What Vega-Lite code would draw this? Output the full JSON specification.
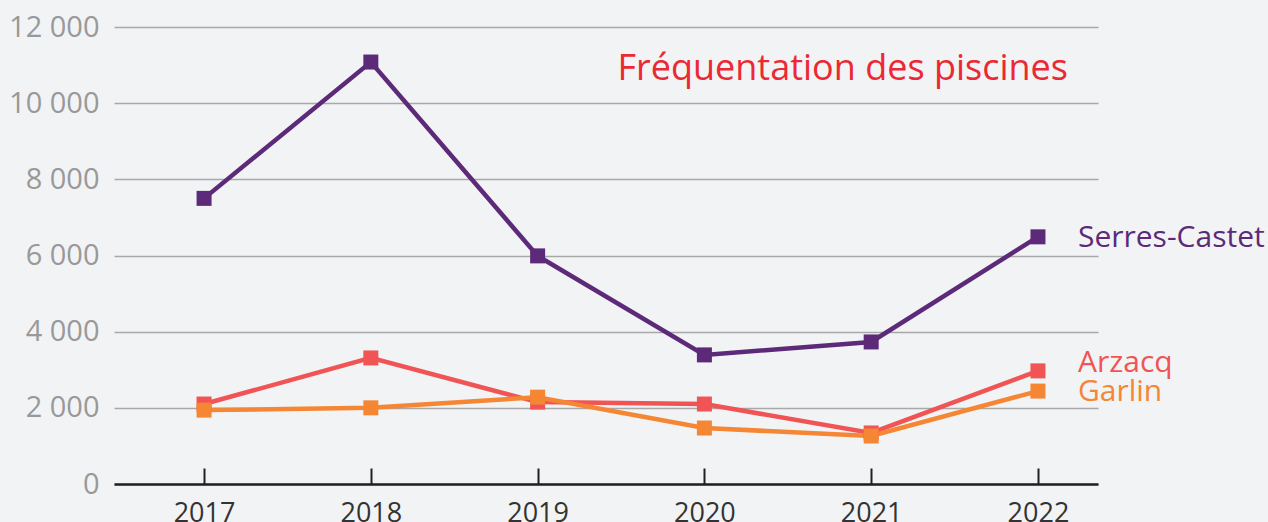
{
  "$schema": "https://vega.github.io/schema/vega-lite/v6.json",
  "width": 984,
  "height": 457,
  "autosize": {"type": "none"},
  "padding": {"left": 114, "top": 27, "right": 170, "bottom": 38},
  "background": "#f2f3f5",
  "config": {
    "view": {"stroke": null},
    "font": "Open Sans"
  },
  "data": {
    "values": [
      {"year": 2017, "town": "Serres-Castet", "value": 7500},
      {"year": 2018, "town": "Serres-Castet", "value": 11080},
      {"year": 2019, "town": "Serres-Castet", "value": 5990},
      {"year": 2020, "town": "Serres-Castet", "value": 3390},
      {"year": 2021, "town": "Serres-Castet", "value": 3730},
      {"year": 2022, "town": "Serres-Castet", "value": 6490},
      {"year": 2017, "town": "Arzacq", "value": 2100},
      {"year": 2018, "town": "Arzacq", "value": 3310},
      {"year": 2019, "town": "Arzacq", "value": 2150},
      {"year": 2020, "town": "Arzacq", "value": 2100},
      {"year": 2021, "town": "Arzacq", "value": 1340},
      {"year": 2022, "town": "Arzacq", "value": 2970},
      {"year": 2017, "town": "Garlin", "value": 1940},
      {"year": 2018, "town": "Garlin", "value": 2000},
      {"year": 2019, "town": "Garlin", "value": 2280},
      {"year": 2020, "town": "Garlin", "value": 1470},
      {"year": 2021, "town": "Garlin", "value": 1260},
      {"year": 2022, "town": "Garlin", "value": 2440}
    ]
  },
  "encoding": {
    "x": {
      "field": "year", "type": "quantitative",
      "scale": {"domain": [2016.46, 2022.36], "nice": false, "zero": false},
      "axis": {
        "title": null, "values": [2017, 2018, 2019, 2020, 2021, 2022], "format": "d",
        "grid": false, "domainColor": "#231f20", "domainWidth": 2.5,
        "tickColor": "#231f20", "tickWidth": 2, "tickSize": -16,
        "labelFontSize": 27, "labelColor": "#333333", "labelPadding": 32,
        "labelFont": "Open Sans"
      }
    },
    "y": {
      "field": "value", "type": "quantitative",
      "scale": {"domain": [0, 12000], "nice": false},
      "axis": {
        "title": null, "values": [0, 2000, 4000, 6000, 8000, 10000, 12000],
        "labelExpr": "replace(format(datum.value, ','), ',', ' ')",
        "domain": false, "ticks": false, "grid": true,
        "gridColor": "#a8a8a8", "gridWidth": 1.5,
        "labelFontSize": 29, "labelColor": "#999999", "labelPadding": 15,
        "labelFont": "Open Sans"
      }
    },
    "color": {
      "field": "town", "type": "nominal",
      "scale": {"domain": ["Serres-Castet", "Arzacq", "Garlin"], "range": ["#5c2a78", "#f05454", "#f58634"]},
      "legend": null
    }
  },
  "layer": [
    {"mark": {"type": "line", "strokeWidth": 4.5}},
    {"mark": {"type": "point", "shape": "square", "filled": true, "opacity": 1, "size": 225}},
    {
      "transform": [{"filter": "datum.year == 2022 && datum.town != 'Arzacq'"}],
      "mark": {"type": "text", "align": "left", "baseline": "middle", "dx": 40, "dy": 1, "fontSize": 30, "font": "Open Sans"},
      "encoding": {"text": {"field": "town"}}
    },
    {
      "transform": [{"filter": "datum.year == 2022 && datum.town == 'Arzacq'"}],
      "mark": {"type": "text", "align": "left", "baseline": "middle", "dx": 40, "dy": -8, "fontSize": 30, "font": "Open Sans"},
      "encoding": {"text": {"field": "town"}}
    },
    {
      "transform": [{"filter": "datum.year == 2022 && datum.town == 'Garlin'"}],
      "mark": {"type": "text", "align": "right", "baseline": "alphabetic", "fontSize": 36, "font": "Open Sans"},
      "encoding": {
        "x": {"datum": 2022.18, "type": "quantitative"},
        "y": {"datum": 10620, "type": "quantitative"},
        "text": {"value": "Fréquentation des piscines"},
        "color": {"value": "#ec2833"}
      }
    }
  ]
}
